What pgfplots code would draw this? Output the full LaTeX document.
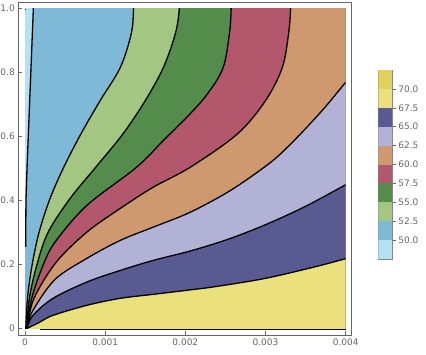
\documentclass[border=0pt]{standalone}
\usepackage{pgfplots}
\pgfplotsset{compat=1.18}
\usepackage{fontspec}
\setmainfont{DejaVu Sans}
\definecolor{frameg}{RGB}{102,102,102}
\definecolor{cLB}{RGB}{178,226,243}
\definecolor{cB}{RGB}{126,186,216}
\definecolor{cLG}{RGB}{163,198,131}
\definecolor{cDG}{RGB}{83,140,75}
\definecolor{cR}{RGB}{179,87,108}
\definecolor{cT}{RGB}{206,153,111}
\definecolor{cL}{RGB}{177,178,213}
\definecolor{cDB}{RGB}{88,90,145}
\definecolor{cLY}{RGB}{234,224,124}
\definecolor{cDY}{RGB}{224,210,90}
\begin{document}
\begin{tikzpicture}
\path[use as bounding box] (0,0) rectangle (426pt,354pt);
% ---------- filled contour bands (clipped to the plot region) ----------
\begin{axis}[
  at={(25pt,25.7pt)}, anchor=south west,
  scale only axis, width=320.7pt, height=319.6pt,
  xmin=0, xmax=0.004, ymin=0, ymax=1,
  hide axis, clip=true,
  every axis plot/.append style={smooth, tension=0.55},
]
% base: 50-52.5
\addplot[fill=cB, draw=none, sharp plot] coordinates {(-0.001,-0.1) (0.005,-0.1) (0.005,1.1) (-0.001,1.1)};
% 47.5-50
\addplot[fill=cLB, draw=none, sharp plot] coordinates {(-0.001,0.255) (0.000008,0.255) (0.000012,0.4) (0.000025,0.5) (0.000104,1.0) (0.00011,1.1) (-0.001,1.1)};
% 52.5-55
\addplot[fill=cLG, draw=none] coordinates {(-0.0000113,-0.0938) (0.00001,0) (0.00003125,0.0938) (0.0000875,0.1969) (0.000175,0.3) (0.0003125,0.4063) (0.0004875,0.5063) (0.0007,0.6094) (0.0009375,0.7125) (0.0011875,0.8156) (0.001325,0.9219) (0.0013538,1.0) (0.00136,1.1) (0.0045,1.1) (0.0045,-0.1)};
% 55-57.5
\addplot[fill=cDG, draw=none] coordinates {(-0.0000138,-0.0938) (0.00002,0) (0.0000538,0.0938) (0.0001463,0.1969) (0.0002875,0.3) (0.0005625,0.4063) (0.0009,0.5094) (0.001225,0.6094) (0.0015,0.7125) (0.001725,0.8156) (0.001875,0.9219) (0.001925,1.0) (0.00194,1.1) (0.0045,1.1) (0.0045,-0.1)};
% 57.5-60
\addplot[fill=cR, draw=none] coordinates {(-0.0000438,-0.0938) (0.00002,0) (0.0000838,0.0938) (0.000225,0.1969) (0.000375,0.2697) (0.0007713,0.3844) (0.0013875,0.5031) (0.001725,0.5875) (0.0020625,0.6719) (0.0022875,0.7375) (0.0024713,0.8156) (0.00255,0.9219) (0.0025713,1.0) (0.002578,1.1) (0.0045,1.1) (0.0045,-0.1)};
% 60-62.5
\addplot[fill=cT, draw=none] coordinates {(-0.0000725,-0.0938) (0.00002,0) (0.0001125,0.0938) (0.0003875,0.2063) (0.0007713,0.3009) (0.0011875,0.375) (0.0016,0.4416) (0.0020625,0.5041) (0.00265,0.6084) (0.003,0.7125) (0.0032088,0.8156) (0.0032875,0.9219) (0.0033125,1.0) (0.00332,1.1) (0.0045,1.1) (0.0045,-0.1)};
% 62.5-65
\addplot[fill=cL, draw=none] coordinates {(-0.00006,-0.0563) (0.00002,0) (0.0001,0.0563) (0.000375,0.153) (0.0007713,0.2188) (0.0011875,0.275) (0.0016,0.3166) (0.0020625,0.3634) (0.0025625,0.4313) (0.0030375,0.5141) (0.003275,0.567) (0.0035,0.625) (0.00375,0.694) (0.004,0.7697) (0.0042,0.826) (0.0045,-0.1)};
% 65-67.5
\addplot[fill=cDB, draw=none] coordinates {(-0.00006,-0.0406) (0.00002,0) (0.0001,0.0406) (0.00035,0.0938) (0.0007713,0.1447) (0.0011875,0.181) (0.0016,0.2125) (0.0020625,0.242) (0.002525,0.278) (0.0029788,0.3219) (0.0034788,0.3791) (0.004,0.4491) (0.0042,0.476) (0.0045,-0.1)};
% 67.5-70
\addplot[fill=cLY, draw=none] coordinates {(-0.0001275,-0.0197) (0.00003,0) (0.0001875,0.0197) (0.00035,0.0406) (0.0007713,0.0719) (0.0011875,0.0938) (0.0016,0.1063) (0.0020625,0.1203) (0.0023538,0.1297) (0.0029788,0.1553) (0.0036038,0.1916) (0.004,0.2178) (0.0042,0.2309) (0.0045,-0.1)};
% ---------- contour lines ----------
\addplot[black, line width=1.3pt, sharp plot] coordinates {(0.000008,0.255) (0.000012,0.4) (0.000025,0.5) (0.000104,1.0) (0.00011,1.1)};
\addplot[black, line width=1.3pt, sharp plot] coordinates {(0,0.997) (0.000015,0.997)};
\addplot[black, line width=1.3pt] coordinates {(-0.0000113,-0.0938) (0.00001,0) (0.00003125,0.0938) (0.0000875,0.1969) (0.000175,0.3) (0.0003125,0.4063) (0.0004875,0.5063) (0.0007,0.6094) (0.0009375,0.7125) (0.0011875,0.8156) (0.001325,0.9219) (0.0013538,1.0) (0.00136,1.1)};
\addplot[black, line width=1.3pt] coordinates {(-0.0000138,-0.0938) (0.00002,0) (0.0000538,0.0938) (0.0001463,0.1969) (0.0002875,0.3) (0.0005625,0.4063) (0.0009,0.5094) (0.001225,0.6094) (0.0015,0.7125) (0.001725,0.8156) (0.001875,0.9219) (0.001925,1.0) (0.00194,1.1)};
\addplot[black, line width=1.3pt] coordinates {(-0.0000438,-0.0938) (0.00002,0) (0.0000838,0.0938) (0.000225,0.1969) (0.000375,0.2697) (0.0007713,0.3844) (0.0013875,0.5031) (0.001725,0.5875) (0.0020625,0.6719) (0.0022875,0.7375) (0.0024713,0.8156) (0.00255,0.9219) (0.0025713,1.0) (0.002578,1.1)};
\addplot[black, line width=1.3pt] coordinates {(-0.0000725,-0.0938) (0.00002,0) (0.0001125,0.0938) (0.0003875,0.2063) (0.0007713,0.3009) (0.0011875,0.375) (0.0016,0.4416) (0.0020625,0.5041) (0.00265,0.6084) (0.003,0.7125) (0.0032088,0.8156) (0.0032875,0.9219) (0.0033125,1.0) (0.00332,1.1)};
\addplot[black, line width=1.3pt] coordinates {(-0.00006,-0.0563) (0.00002,0) (0.0001,0.0563) (0.000375,0.153) (0.0007713,0.2188) (0.0011875,0.275) (0.0016,0.3166) (0.0020625,0.3634) (0.0025625,0.4313) (0.0030375,0.5141) (0.003275,0.567) (0.0035,0.625) (0.00375,0.694) (0.004,0.7697) (0.0042,0.826)};
\addplot[black, line width=1.3pt] coordinates {(-0.00006,-0.0406) (0.00002,0) (0.0001,0.0406) (0.00035,0.0938) (0.0007713,0.1447) (0.0011875,0.181) (0.0016,0.2125) (0.0020625,0.242) (0.002525,0.278) (0.0029788,0.3219) (0.0034788,0.3791) (0.004,0.4491) (0.0042,0.476)};
\addplot[black, line width=1.3pt] coordinates {(-0.0001275,-0.0197) (0.00003,0) (0.0001875,0.0197) (0.00035,0.0406) (0.0007713,0.0719) (0.0011875,0.0938) (0.0016,0.1063) (0.0020625,0.1203) (0.0023538,0.1297) (0.0029788,0.1553) (0.0036038,0.1916) (0.004,0.2178) (0.0042,0.2309)};
\end{axis}
% ---------- frame and ticks ----------
\begin{axis}[
  at={(18.3pt,19pt)}, anchor=south west,
  scale only axis, width=333.4pt, height=333pt,
  xmin=-0.0000836, xmax=0.004075, ymin=-0.02096, ymax=1.02096,
  axis line style={draw=frameg, line width=0.6pt},
  xtick={0,0.001,0.002,0.003,0.004}, xticklabels={0,0.001,0.002,0.003,0.004},
  ytick={0,0.2,0.4,0.6,0.8,1.0}, yticklabels={0,0.2,0.4,0.6,0.8,1.0},
  xtick pos=lower, ytick pos=left,
  tick align=inside, major tick length=4pt,
  tick style={draw=frameg, line width=0.5pt},
  ticklabel style={font=\fontsize{9}{10}\selectfont, text=frameg},
  scaled x ticks=false,
]
% contour 70 lying along the lower edge
\addplot[black, line width=1.5pt] coordinates {(0.00019,-0.003) (0.004,-0.003)};
\end{axis}
% ---------- colour bar ----------
\begin{axis}[
  at={(378.3pt,95pt)}, anchor=south west,
  scale only axis, width=14pt, height=189pt,
  xmin=0, xmax=1, ymin=47.5, ymax=72.5,
  xtick=\empty,
  ytick={50,52.5,55,57.5,60,62.5,65,67.5,70},
  yticklabels={50.0,52.5,55.0,57.5,60.0,62.5,65.0,67.5,70.0},
  ytick pos=right, yticklabel pos=right,
  tick align=outside, major tick length=3.5pt,
  tick style={draw=frameg, line width=0.5pt},
  axis line style={draw=frameg!80, line width=0.6pt},
  ticklabel style={font=\fontsize{9}{10}\selectfont, text=frameg},
  yticklabel style={xshift=-1pt},
]
\addplot[fill=cLB, draw=none] coordinates {(0,47.5) (1,47.5) (1,50) (0,50)} --cycle;
\addplot[fill=cB, draw=none] coordinates {(0,50) (1,50) (1,52.5) (0,52.5)} --cycle;
\addplot[fill=cLG, draw=none] coordinates {(0,52.5) (1,52.5) (1,55) (0,55)} --cycle;
\addplot[fill=cDG, draw=none] coordinates {(0,55) (1,55) (1,57.5) (0,57.5)} --cycle;
\addplot[fill=cR, draw=none] coordinates {(0,57.5) (1,57.5) (1,60) (0,60)} --cycle;
\addplot[fill=cT, draw=none] coordinates {(0,60) (1,60) (1,62.5) (0,62.5)} --cycle;
\addplot[fill=cL, draw=none] coordinates {(0,62.5) (1,62.5) (1,65) (0,65)} --cycle;
\addplot[fill=cDB, draw=none] coordinates {(0,65) (1,65) (1,67.5) (0,67.5)} --cycle;
\addplot[fill=cLY, draw=none] coordinates {(0,67.5) (1,67.5) (1,70) (0,70)} --cycle;
\addplot[fill=cDY, draw=none] coordinates {(0,70) (1,70) (1,72.5) (0,72.5)} --cycle;
\end{axis}
\end{tikzpicture}
\end{document}
